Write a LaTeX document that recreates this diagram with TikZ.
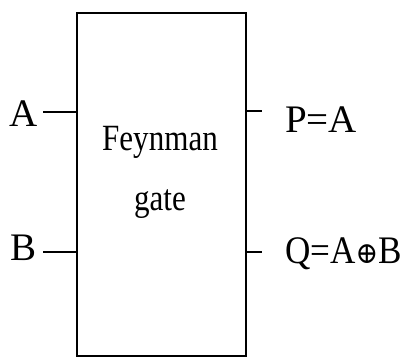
\documentclass[tikz,border=0pt]{standalone}
\usepackage{fontspec}
\setmainfont{Liberation Serif}
\newfontfamily\symfont{DejaVu Serif}
\usetikzlibrary{positioning}

\begin{document}
\begin{tikzpicture}[
  x=1pt, y=-1pt,
  gatebox/.style={draw, line width=1.3pt, minimum width=169pt, minimum height=343pt, inner sep=0pt},
  wire/.style={line width=1.3pt},
  sig/.style={font=\fontsize{39}{44}\selectfont, inner sep=0pt},
  title/.style={font=\fontsize{37}{60}\selectfont, align=center, xscale=0.84, inner sep=0pt},
]
  \useasboundingbox (0,0) rectangle (407,358);

  \node[gatebox] (gate) at (161.5,184.5) {};
  \node[title] (name) at (160,172) {Feynman\\gate};

  % wire ends outside the box
  \coordinate (ina)  at (43,112);
  \coordinate (inb)  at (43,252);
  \coordinate (outp) at (262,111);
  \coordinate (outq) at (262,252);

  \draw[wire] (ina) -- (gate.west |- ina);
  \draw[wire] (inb) -- (gate.west |- inb);
  \draw[wire] (gate.east |- outp) -- (outp);
  \draw[wire] (gate.east |- outq) -- (outq);

  \node[sig, anchor=base east] (a) at (38,127) {A};
  \node[sig, anchor=base east] (b) at (37,260) {B};
  \node[sig, anchor=base west] (p) at (285,133) {P=A};
  \node[sig, anchor=base west, xscale=0.9] (q) at (285,263) {Q=A{\symfont\fontsize{30}{30}\selectfont ⊕}B};
\end{tikzpicture}
\end{document}
